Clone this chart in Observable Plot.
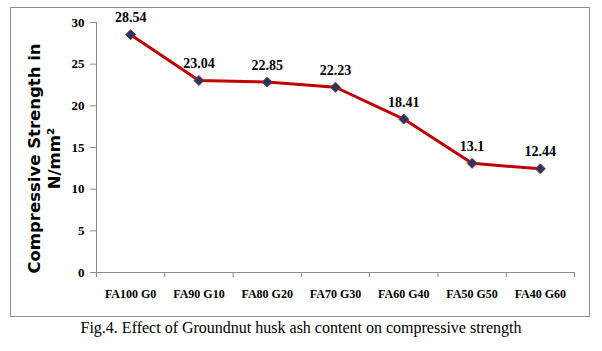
<!DOCTYPE html>
<html>
<head>
<meta charset="utf-8">
<script src="https://cdn.jsdelivr.net/npm/d3@7"></script>
<script src="https://cdn.jsdelivr.net/npm/@observablehq/plot@0.6"></script>
<style>
  html, body { margin: 0; padding: 0; background: #fff; }
  #wrap { position: relative; width: 602px; height: 351px; }
  #box { position: absolute; left: 10px; top: 7px; width: 578px; height: 308px; border: 1px solid #8c8c8c; pointer-events: none; }
  #caption { position: absolute; left: 0; top: 318px; width: 602px; text-align: center; font-family: "Liberation Serif", "Times New Roman", serif; font-size: 16px; line-height: 20px; color: #000; }
  #chart svg g[aria-label$="tick label"] text { font-family: "Liberation Serif", "Times New Roman", serif; font-weight: bold; }
</style>
</head>
<body>
<div id="wrap">
  <div id="chart"></div>
  <div id="box"></div>
  <div id="caption">Fig.4. Effect of Groundnut husk ash content on compressive strength</div>
</div>
<script>
const categories = ["FA100 G0", "FA90 G10", "FA80 G20", "FA70 G30", "FA60 G40", "FA50 G50", "FA40 G60"];
const strength = [28.54, 23.04, 22.85, 22.23, 18.41, 13.1, 12.44];
const valueLabels = ["28.54", "23.04", "22.85", "22.23", "18.41", "13.1", "12.44"];
const yTicks = [0, 5, 10, 15, 20, 25, 30];
const yTitle = "Compressive Strength in\nN/mm\u00b2";

const data = categories.map((c, i) => ({cat: c, i: i + 0.5, v: strength[i], label: valueLabels[i]}));
const serif = "'Liberation Serif', 'Times New Roman', serif";

const plot = Plot.plot({
  width: 602,
  height: 318,
  marginLeft: 96,
  marginRight: 28,
  marginTop: 22,
  marginBottom: 46,
  style: {background: "transparent", overflow: "visible", fontFamily: serif, fontWeight: "bold", color: "#000"},
  x: {type: "linear", domain: [0, categories.length], axis: null},
  y: {domain: [0, 30], axis: null},
  marks: [
    Plot.ruleY([0], {stroke: "#8c8c8c", strokeWidth: 1}),
    Plot.ruleX([0], {stroke: "#8c8c8c", strokeWidth: 1}),
    Plot.axisY({ticks: yTicks, label: null, tickSize: 6, tickPadding: 6, stroke: "#8c8c8c", fill: "#000",
      fontSize: 13, fontWeight: "bold", fontFamily: serif, tickFormat: d => String(d)}),
    Plot.axisX({ticks: d3.range(categories.length + 1), label: null, tickSize: 5, tickFormat: () => "", stroke: "#8c8c8c"}),
    Plot.axisX({ticks: data.map(d => d.i), label: null, tickSize: 0, tickPadding: 17,
      tickFormat: d => categories[Math.floor(d)], fill: "#000",
      fontSize: 12, fontWeight: "bold", fontFamily: serif}),
    Plot.line(data, {x: "i", y: "v", stroke: "#c00000", strokeWidth: 3}),
    Plot.dot(data, {x: "i", y: "v", symbol: "diamond2", r: 4.5, fill: "#1f3864", stroke: "#b02828", strokeWidth: 1}),
    Plot.text(data, {x: "i", y: "v", text: "label", dy: -17, fill: "#000",
      fontSize: 14, fontWeight: "bold", fontFamily: serif}),
    Plot.text([yTitle], {text: d => d, frameAnchor: "left", textAnchor: "middle", lineAnchor: "middle", rotate: -90, dx: -53, dy: 11,
      lineHeight: 1.25, fontSize: 16.5, fontWeight: "bold", fontFamily: "'DejaVu Sans', Verdana, sans-serif", fill: "#000"})
  ]
});
document.getElementById("chart").appendChild(plot);
</script>
</body>
</html>
